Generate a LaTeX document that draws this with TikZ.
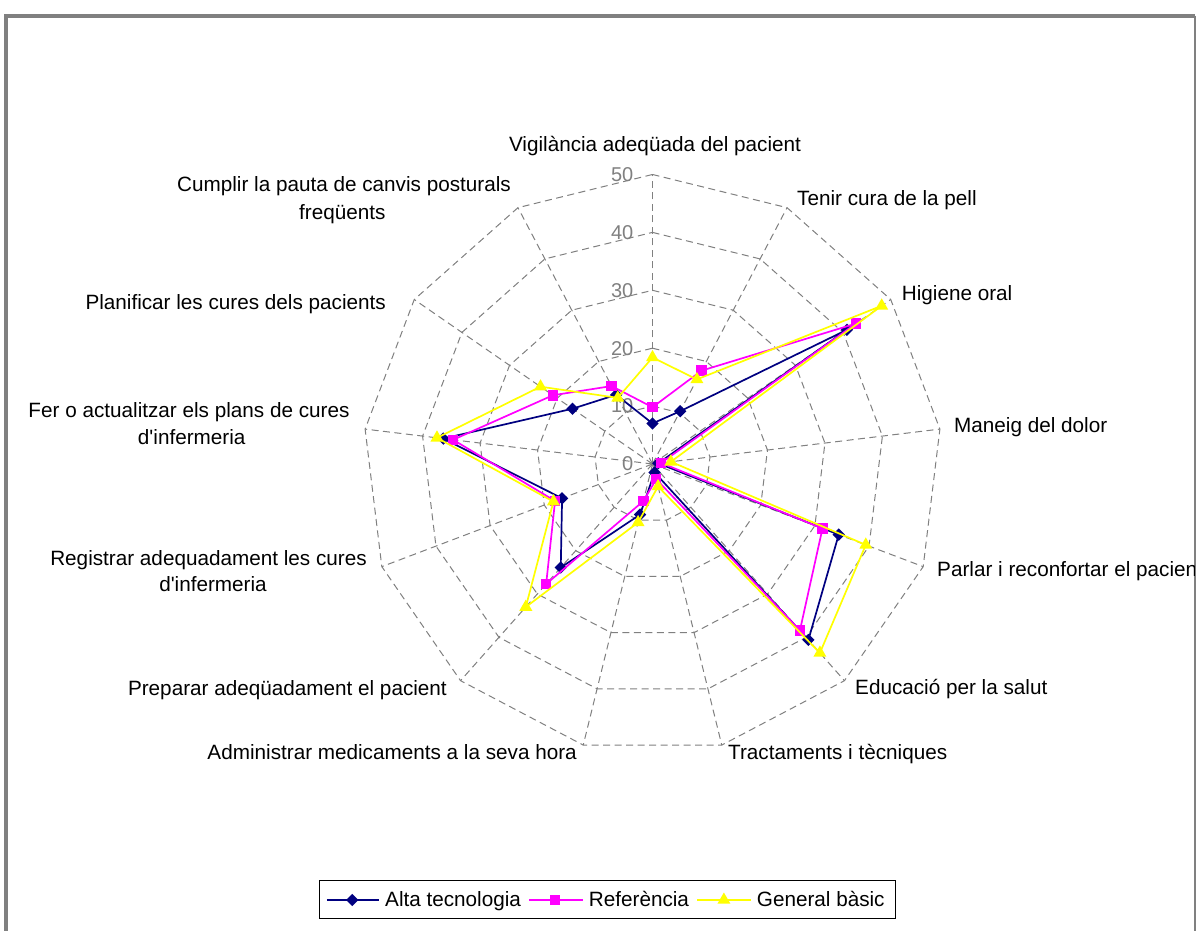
\documentclass[tikz,border=0pt]{standalone}
\usepackage{fontspec}
\setmainfont{Liberation Sans}[Ligatures=TeXOff]
\usetikzlibrary{shapes.geometric}
\definecolor{navyc}{RGB}{0,0,128}
\definecolor{magc}{RGB}{255,0,255}
\definecolor{yelc}{RGB}{255,255,0}
\definecolor{gridc}{RGB}{128,128,128}
\begin{document}
\begin{tikzpicture}[x=1pt,y=1pt,
  lbl/.style={inner sep=0pt, font=\fontsize{20.7}{24}\selectfont, text=black},
  ticklbl/.style={inner sep=0pt, font=\fontsize{20}{24}\selectfont, text=gridc, anchor=east},
  gridline/.style={draw=gridc, line width=1pt, dash pattern=on 7pt off 4.5pt},
  serA/.style={draw=navyc, line width=1.7pt, line join=round},
  serB/.style={draw=magc, line width=1.7pt, line join=round},
  serC/.style={draw=yelc, line width=1.7pt, line join=round},
  mkA/.style={diamond, fill=navyc, inner sep=0pt, minimum width=12.5pt, minimum height=12.5pt},
  mkB/.style={rectangle, fill=magc, inner sep=0pt, minimum size=10.5pt},
  mkC/.style={regular polygon, regular polygon sides=3, fill=yelc, inner sep=0pt, minimum size=15pt},
  chartframe/.style={draw=gridc}
]
\useasboundingbox (0,0) rectangle (1197,931);
\fill[white] (0,0) rectangle (1197,931);

% chart frame
\draw[chartframe, line width=4pt] (5.5,-5) -- (5.5,915) -- (1195.3,915);
\draw[chartframe, line width=2pt] (1195.3,915) -- (1195.3,-5);

\begin{scope}[shift={(652.5,467)}]
\def\u{5.79}
% rings
\foreach \r in {10,20,30,40,50} {
  \draw[gridline] ({90}:{\r*\u}) \foreach \k in {1,...,12} { -- ({90-\k*360/13}:{\r*\u}) } -- cycle;
}
% spokes
\foreach \k in {0,...,12} \draw[gridline] (0,0) -- ({90-\k*360/13}:{50*\u}) coordinate (ax\k);
% tick labels
\foreach \r in {0,10,20,30,40,50} \node[ticklbl] (t\r) at (-19,{\r*\u}) {\r};

% data
\def\valA{7.0,10.3,40.8,1.0,34.4,40.6,1.5,9.0,23.9,16.7,36.4,16.8,13.5}
\def\valB{9.8,18.2,42.7,1.5,31.4,38.4,2.7,6.6,27.7,18.0,34.7,20.9,15.2}
\def\valC{18.4,16.5,48.1,3.2,39.4,43.6,4.0,10.4,33.0,18.3,37.5,23.5,12.9}
\foreach \v [count=\i from 0] in \valA { \coordinate (a\i) at ({90-\i*360/13}:{\v*\u}); }
\foreach \v [count=\i from 0] in \valB { \coordinate (b\i) at ({90-\i*360/13}:{\v*\u}); }
\foreach \v [count=\i from 0] in \valC { \coordinate (c\i) at ({90-\i*360/13}:{\v*\u}); }

\draw[serA] (a0) \foreach \i in {1,...,12} { -- (a\i) } -- cycle;
\foreach \i in {0,...,12} \node[mkA] (ma\i) at (a\i) {};
\draw[serB] (b0) \foreach \i in {1,...,12} { -- (b\i) } -- cycle;
\foreach \i in {0,...,12} \node[mkB] (mb\i) at (b\i) {};
\draw[serC] (c0) \foreach \i in {1,...,12} { -- (c\i) } -- cycle;
\foreach \i in {0,...,12} \node[mkC] (mc\i) at (c\i) {};
\end{scope}

% axis labels
\node[lbl, anchor=base] (l0) at (655,779.3) {Vigilància adeqüada del pacient};
\node[lbl, anchor=base west] (l1) at (797,725.3) {Tenir cura de la pell};
\node[lbl, anchor=base west] (l2) at (901.7,630.2) {Higiene oral};
\node[lbl, anchor=base west] (l3) at (954,498.7) {Maneig del dolor};
\begin{scope}
\clip (0,0) rectangle (1194,931);
\node[lbl, anchor=base west] (l4) at (937,354.5) {Parlar i reconfortar el pacient};
\end{scope}
\node[lbl, anchor=base west] (l5) at (855,236.5) {Educació per la salut};
\node[lbl, anchor=base west] (l6) at (728,171.5) {Tractaments i tècniques};
\node[lbl, anchor=base east] (l7) at (577,171.5) {Administrar medicaments a la seva hora};
\node[lbl, anchor=base east] (l8) at (447,235.5) {Preparar adeqüadament el pacient};
\node[lbl, anchor=base] (l9a) at (208.5,365.5) {Registrar adequadament les cures};
\node[lbl, anchor=base] (l9b) at (213,339) {d'infermeria};
\node[lbl, anchor=base] (l10a) at (189,513.3) {Fer o actualitzar els plans de cures};
\node[lbl, anchor=base] (l10b) at (191.7,486) {d'infermeria};
\node[lbl, anchor=base east] (l11) at (386,621.5) {Planificar les cures dels pacients};
\node[lbl, anchor=base] (l12a) at (344,739.3) {Cumplir la pauta de canvis posturals};
\node[lbl, anchor=base] (l12b) at (342.3,711.7) {freqüents};

% legend
\draw[black, line width=1pt] (319.8,12) rectangle (895.1,50);
\coordinate (la1) at (326.9,31); \coordinate (la2) at (379.1,31);
\coordinate (lb1) at (529.3,31); \coordinate (lb2) at (582.7,31);
\coordinate (lc1) at (697.4,31); \coordinate (lc2) at (750.8,31);
\draw[serA] (la1) -- (la2);
\node[mkA] (lma) at (352.2,31) {};
\node[lbl, anchor=base west] (lta) at (385,24) {Alta tecnologia};
\draw[serB] (lb1) -- (lb2);
\node[mkB] (lmb) at (555,31) {};
\node[lbl, anchor=base west] (ltb) at (588.7,24) {Referència};
\draw[serC] (lc1) -- (lc2);
\node[mkC] (lmc) at (723.9,31) {};
\node[lbl, anchor=base west] (ltc) at (756.7,24) {General bàsic};
\end{tikzpicture}
\end{document}
